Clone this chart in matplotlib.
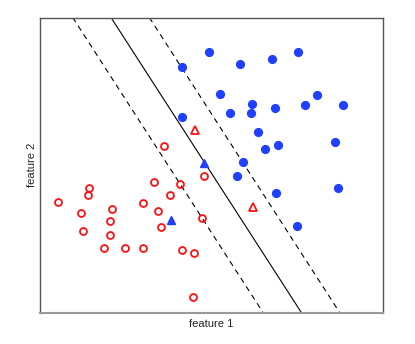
import matplotlib
matplotlib.use("Agg")
import matplotlib.pyplot as plt

# --- data ---
blue_x = [16.95, 14.25, 20.05, 23.22, 25.82, 18.05, 21.22, 23.58, 26.52, 27.72, 30.32, 14.25,
          19.08, 21.12, 21.88, 22.58, 23.85, 29.55, 20.32, 19.75, 23.68, 29.85, 25.72]
blue_y = [26.05, 24.58, 24.82, 25.32, 26.08, 21.82, 20.82, 20.48, 20.75, 21.72, 20.78, 19.55,
          19.95, 19.92, 18.05, 16.35, 16.78, 17.05, 15.02, 13.62, 11.92, 12.42, 8.68]

red_x = [12.45, 11.42, 14.05, 16.42, 4.95, 4.88, 1.82, 13.08, 10.35, 7.22, 4.15, 11.88,
         16.25, 7.02, 12.18, 4.35, 7.02, 6.48, 8.52, 10.38, 14.28, 15.48, 15.38]
red_y = [16.65, 13.08, 12.88, 13.68, 12.42, 11.72, 11.02, 11.75, 10.92, 10.32, 9.92, 10.12,
         9.48, 9.12, 8.55, 8.12, 7.78, 6.45, 6.45, 6.48, 6.28, 5.92, 1.52]

blue_tri_x = [16.48, 13.15]
blue_tri_y = [14.98, 9.22]
red_tri_x = [15.58, 21.32]
red_tri_y = [18.25, 10.58]

# decision boundary and margins: y = slope * (x - x0) + 29.5
slope = -1.55
x0_margin_lo = 3.32
x0_boundary = 7.15
x0_margin_hi = 10.98

BLUE = '#2040ff'
RED = '#ff1010'

plt.rcParams['font.family'] = ['Liberation Sans', 'DejaVu Sans']

fig = plt.figure(figsize=(4.15, 3.44), dpi=100)
ax = fig.add_axes([39.5 / 415, 31.5 / 344, 343 / 415, 295 / 344])

ax.axline((x0_boundary, 29.5), slope=slope, color='black', lw=0.8)
ax.axline((x0_margin_lo, 29.5), slope=slope, color='black', lw=0.8, ls=(0, (5, 4)))
ax.axline((x0_margin_hi, 29.5), slope=slope, color='black', lw=0.8, ls=(0, (5, 4)))

ax.plot(blue_x, blue_y, 'o', color=BLUE, ms=5.6, mec=BLUE)
ax.plot(red_x, red_y, 'o', mfc='none', mec=RED, mew=1.3, ms=5.0)
ax.plot(blue_tri_x, blue_tri_y, '^', color=BLUE, ms=6)
ax.plot(red_tri_x, red_tri_y, '^', mfc='none', mec=RED, mew=1.3, ms=5.2)

ax.set_xlim(0, 34.3)
ax.set_ylim(0, 29.5)
ax.set_xticks([])
ax.set_yticks([])
ax.set_xlabel('feature 1', fontsize=8, labelpad=5, color='#222222')
ax.set_ylabel('feature 2', fontsize=8, labelpad=2, color='#222222')

for side in ['top', 'left', 'right']:
    ax.spines[side].set_color('#555555')
    ax.spines[side].set_linewidth(1.0)
ax.spines['bottom'].set_color('#999999')
ax.spines['bottom'].set_linewidth(1.5)

fig.savefig('out.png', dpi=100)
